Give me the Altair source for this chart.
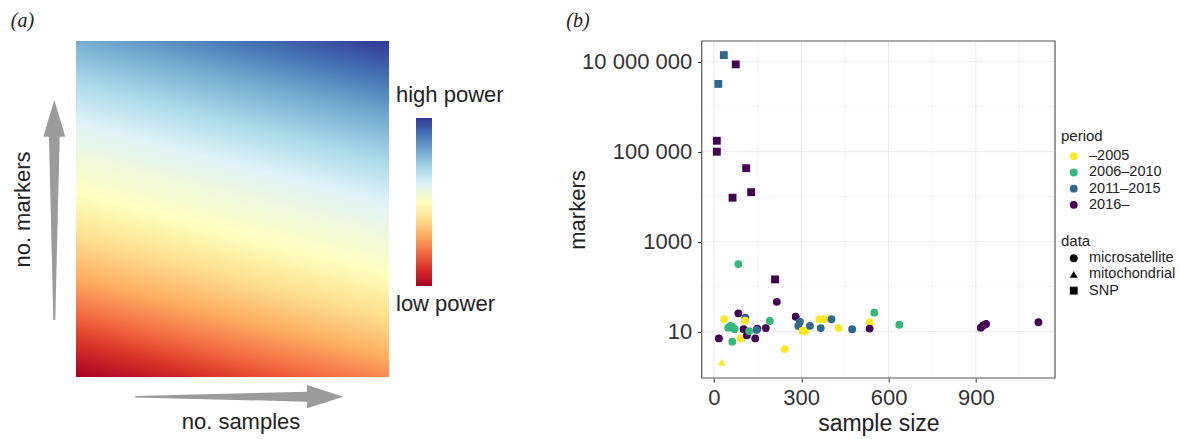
import altair as alt
import pandas as pd

# ---------------- panel (b) data ----------------
period_levels = ["–2005", "2006–2010", "2011–2015", "2016–"]
period_colors = ["#FDE725", "#35B779", "#31688E", "#440154"]
data_levels = ["microsatellite", "mitochondrial", "SNP"]
data_shapes = ["circle", "triangle-up", "square"]

snp_size = [34, 75, 15, 10, 10, 111, 128, 64, 210]
snp_markers = [14000000, 8700000, 3200000, 175000, 100000, 43000, 12600, 9500, 145]
snp_period = ["2011–2015", "2016–", "2011–2015", "2016–", "2016–", "2016–", "2016–", "2016–", "2016–"]

mito_size = [27]
mito_markers = [2.1]
mito_period = ["–2005"]

micro_size = [84, 216, 35, 84, 108, 107, 49, 57, 64, 71, 63, 92, 17, 102, 113, 142,
              121, 149, 147, 178, 192, 243, 281, 295, 290, 304, 313, 330, 362, 378,
              367, 404, 428, 475, 535, 535, 551, 637, 917, 925, 935, 1115]
micro_markers = [318, 46, 19, 25.6, 20.5, 17.5, 12.3, 13.4, 12.6, 11.3, 6, 7.1, 7.1, 11.3, 8.3, 7.1,
                 10.3, 11.7, 11, 12, 17.3, 4.1, 21.5, 16.7, 13.4, 10.5, 10.2, 13.5, 19, 19,
                 12, 19, 12, 11.3, 16, 11.7, 26.5, 14.3, 12.3, 13.8, 14.8, 16.2]
micro_period = ["2006–2010", "2016–", "–2005", "2016–", "2011–2015", "–2005", "2006–2010", "2006–2010",
                "2006–2010", "2006–2010", "2006–2010", "–2005", "2016–", "2016–", "2016–", "2016–",
                "2006–2010", "2016–", "2011–2015", "2016–", "2006–2010", "–2005", "2016–", "2011–2015",
                "2011–2015", "–2005", "–2005", "2011–2015", "–2005", "–2005",
                "2011–2015", "2011–2015", "–2005", "2011–2015", "–2005", "2016–", "2006–2010", "2006–2010",
                "2016–", "2016–", "2016–", "2016–"]

x_tick_values = [0, 300, 600, 900]
x_minor_values = [150, 450, 750, 1050]
y_tick_values = [10, 1000, 100000, 10000000]
y_tick_labels = ["10", "1000", "100 000", "10 000 000"]
y_minor_values = [100, 10000, 1000000]
x_domain = [-42, 1172]
y_domain = [0.935, 2.88e7]

# ---------------- panel (a) schematic ----------------
rdylbu = ["#a50026", "#d73027", "#f46d43", "#fdae61", "#fee090", "#ffffbf",
          "#e0f3f8", "#abd9e9", "#74add1", "#4575b4", "#313695"]
heat_offsets = [0, 0.08, 0.155, 0.24, 0.34, 0.44, 0.61, 0.71, 0.81, 0.905, 1.0]
bar_offsets = [i / 10 for i in range(11)]
a_labels = ["no. markers", "no. samples", "high power", "low power", "markers"]
panel_tags = ["(a)", "(b)"]

# layout geometry of the schematic (pixel-like units of the panel (a) frame)
LEFT_W, H = 690, 439
heat_box = dict(x=[76], x2=[389], y=[41], y2=[377])
cbar_box = dict(x=[416], x2=[432], y=[118], y2=[286])
arrow_pos = dict(x=[239.15, 54.3], y=[396.7, 210], k=["h", "v"])
H_ARROW = "M -1 -0.0067 L 0.651 -0.048 L 0.651 -0.112 L 1 0 L 0.651 0.112 L 0.651 0.048 L -1 0.0067 Z"
V_ARROW = "M -0.009 1 L -0.0486 -0.666 L -0.1 -0.666 L 0 -1 L 0.1 -0.666 L 0.0486 -0.666 L 0.009 1 Z"

ax = alt.Scale(domain=[0, LEFT_W], range=[0, LEFT_W], nice=False, zero=False)
ay = alt.Scale(domain=[0, H], range=[0, H], nice=False, zero=False)

heat_fill = alt.LinearGradient(
    gradient="linear",
    stops=[alt.GradientStop(color=c, offset=o) for c, o in zip(rdylbu, heat_offsets)],
    x1=0, y1=1, x2=0.2814, y2=-0.1725)
cbar_fill = alt.LinearGradient(
    gradient="linear",
    stops=[alt.GradientStop(color=c, offset=o) for c, o in zip(rdylbu, bar_offsets)],
    x1=0, y1=1, x2=0, y2=0)

def rect_layer(box, fill):
    return alt.Chart(pd.DataFrame(box)).mark_rect(fill=fill).encode(
        x=alt.X("x:Q", scale=ax, axis=None), x2="x2:Q",
        y=alt.Y("y:Q", scale=ay, axis=None), y2="y2:Q")

heat = rect_layer(heat_box, heat_fill)
cbar = rect_layer(cbar_box, cbar_fill)

arrows = pd.DataFrame(arrow_pos)
harr = alt.Chart(arrows[arrows.k == "h"]).mark_point(
    shape=H_ARROW, filled=True, color="#9b9b9b", opacity=1, size=208.3 ** 2).encode(
    x=alt.X("x:Q", scale=ax, axis=None), y=alt.Y("y:Q", scale=ay, axis=None))
varr = alt.Chart(arrows[arrows.k == "v"]).mark_point(
    shape=V_ARROW, filled=True, color="#9b9b9b", opacity=1, size=220 ** 2).encode(
    x=alt.X("x:Q", scale=ax, axis=None), y=alt.Y("y:Q", scale=ay, axis=None))

txt_center = pd.DataFrame(dict(t=[a_labels[0], a_labels[1], a_labels[4]],
                               x=[29.5, 241, 585], y=[209.5, 429, 210], ang=[270, 0, 270]))
txt_left = pd.DataFrame(dict(t=[a_labels[2], a_labels[3]], x=[396, 396], y=[102, 310.5]))
txt_tags = pd.DataFrame(dict(t=panel_tags, x=[22.5, 578], y=[27.3, 27.3]))

tc = alt.Chart(txt_center).mark_text(fontSize=22, baseline="alphabetic", align="center",
                                     color="#222222", font="Liberation Sans").encode(
    x=alt.X("x:Q", scale=ax, axis=None), y=alt.Y("y:Q", scale=ay, axis=None),
    text="t:N", angle=alt.Angle("ang:Q", scale=None))
tl = alt.Chart(txt_left).mark_text(fontSize=22, baseline="alphabetic", align="left",
                                   color="#222222", font="Liberation Sans").encode(
    x=alt.X("x:Q", scale=ax, axis=None), y=alt.Y("y:Q", scale=ay, axis=None), text="t:N")
tt = alt.Chart(txt_tags).mark_text(fontSize=20, baseline="alphabetic", align="center",
                                   fontStyle="italic", color="#222222", font="Liberation Serif").encode(
    x=alt.X("x:Q", scale=ax, axis=None), y=alt.Y("y:Q", scale=ay, axis=None), text="t:N")

left = alt.layer(heat, cbar, harr, varr, tc, tl, tt).properties(width=LEFT_W, height=H)

# ---------------- panel (b) chart ----------------
PX0, PX1 = 0, 353.3
PY0, PY1 = 378, 41
xs = alt.Scale(domain=x_domain, range=[PX0, PX1], nice=False, zero=False)
ys = alt.Scale(type="log", domain=y_domain, range=[PY0, PY1], nice=False)

label_expr = " : ".join(f"datum.value == {v} ? '{l}'" for v, l in zip(y_tick_values, y_tick_labels)) + " : ''"
x_axis = alt.Axis(values=x_tick_values, title="sample size", offset=-(H - PY0), grid=False,
                  domain=False, tickSize=4, tickColor="#333333", labelFontSize=22,
                  labelColor="#333333", titleFontSize=23, titleColor="#222222",
                  titleFontWeight="normal", labelPadding=5, titlePadding=4, format="d")
y_axis = alt.Axis(values=y_tick_values, labelExpr=label_expr, title="", grid=False,
                  domain=False, tickSize=4, tickColor="#333333", labelFontSize=22,
                  labelColor="#333333", labelPadding=6)

pts = pd.concat([
    pd.DataFrame(dict(size=micro_size, markers=micro_markers, period=micro_period, data="microsatellite")),
    pd.DataFrame(dict(size=mito_size, markers=mito_markers, period=mito_period, data="mitochondrial")),
    pd.DataFrame(dict(size=snp_size, markers=snp_markers, period=snp_period, data="SNP")),
], ignore_index=True)

vgrid = pd.DataFrame(dict(v=x_tick_values + x_minor_values,
                          w=[1.0] * len(x_tick_values) + [0.5] * len(x_minor_values),
                          y0=y_domain[0], y1=y_domain[1]))
hgrid = pd.DataFrame(dict(v=y_tick_values + y_minor_values,
                          w=[1.0] * len(y_tick_values) + [0.5] * len(y_minor_values),
                          x0=x_domain[0], x1=x_domain[1]))
border = pd.DataFrame(dict(x0=[x_domain[0]], x1=[x_domain[1]], y0=[y_domain[0]], y1=[y_domain[1]]))

vg = alt.Chart(vgrid).mark_rule(color="#EBEBEB").encode(
    x=alt.X("v:Q", scale=xs, axis=x_axis),
    y=alt.Y("y0:Q", scale=ys, axis=y_axis), y2="y1:Q",
    strokeWidth=alt.StrokeWidth("w:Q", scale=None))
hg = alt.Chart(hgrid).mark_rule(color="#EBEBEB").encode(
    y=alt.Y("v:Q", scale=ys, axis=y_axis),
    x=alt.X("x0:Q", scale=xs, axis=x_axis), x2="x1:Q",
    strokeWidth=alt.StrokeWidth("w:Q", scale=None))
bd = alt.Chart(border).mark_rect(fillOpacity=0, stroke="#555555", strokeWidth=1.2).encode(
    x=alt.X("x0:Q", scale=xs, axis=x_axis), x2="x1:Q",
    y=alt.Y("y0:Q", scale=ys, axis=y_axis), y2="y1:Q")

points = alt.Chart(pts).mark_point(filled=True, size=62, opacity=1).encode(
    x=alt.X("size:Q", scale=xs, axis=x_axis),
    y=alt.Y("markers:Q", scale=ys, axis=y_axis),
    color=alt.Color("period:N", scale=alt.Scale(domain=period_levels, range=period_colors),
                    legend=alt.Legend(title="period", orient="none", legendX=1061, legendY=129,
                                      symbolType="circle", symbolSize=62, titlePadding=5)),
    shape=alt.Shape("data:N", scale=alt.Scale(domain=data_levels, range=data_shapes),
                    legend=alt.Legend(title="data", orient="none", legendX=1061, legendY=234,
                                      symbolSize=62, symbolFillColor="black", symbolStrokeWidth=0,
                                      titlePadding=2)),
)

right = alt.layer(vg, hg, bd, points).properties(width=1180 - 701.7, height=H)

chart = alt.hconcat(left, right, spacing=701.7 - LEFT_W, bounds="flush").properties(
    padding=0
).configure(font="Liberation Sans").configure_view(strokeOpacity=0).configure_legend(
    titleFontSize=15, labelFontSize=14.5, titleFontWeight="normal", titleColor="#222222",
    labelColor="#222222", rowPadding=1.2, symbolOffset=5.5, labelOffset=8, padding=0
)

chart.save("out.html", embed_options={"renderer": "svg", "actions": False})
